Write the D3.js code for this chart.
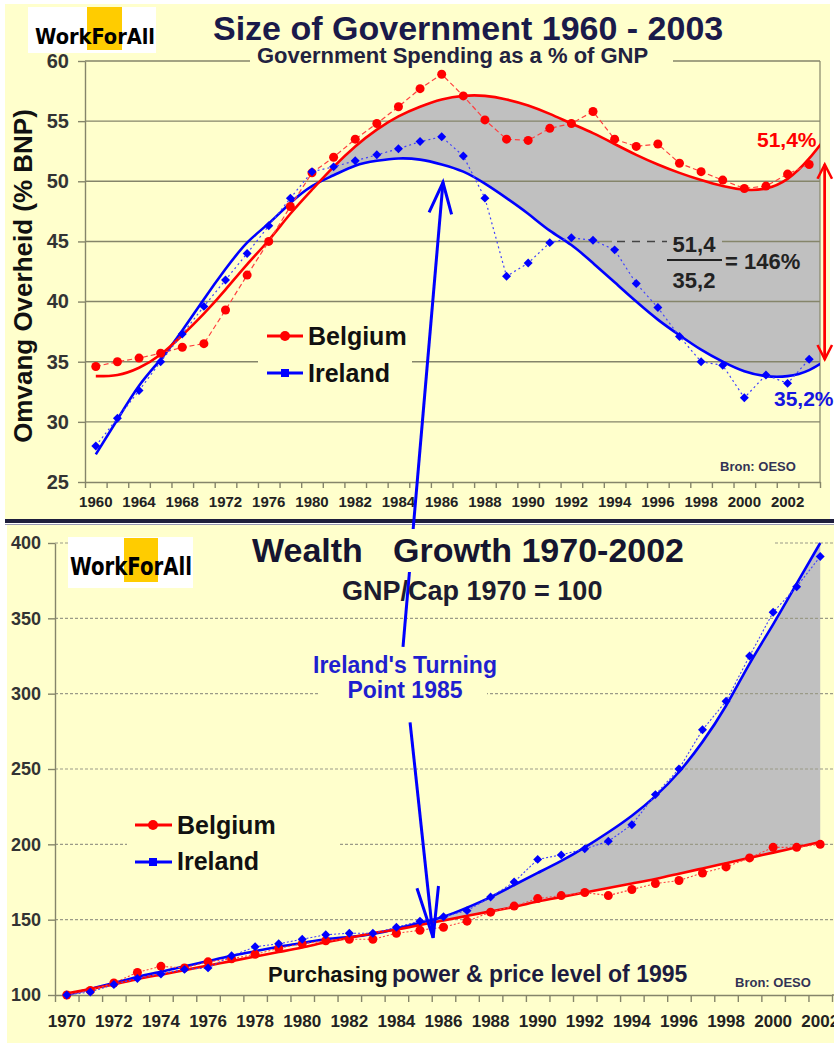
<!DOCTYPE html>
<html>
<head>
<meta charset="utf-8">
<script src="https://cdn.jsdelivr.net/npm/d3@7"></script>
<style>
  html, body { margin: 0; padding: 0; background: #fff; }
  svg { display: block; }
</style>
</head>
<body>
<svg id="chart" width="834" height="1043"></svg>
<script>
"use strict";

// ---------- top chart: government spending as % of GNP ----------
const spendYears = [1960, 1962, 1964, 1966, 1968, 1970, 1972, 1974, 1976, 1978, 1980,
  1981, 1982, 1983, 1984, 1985, 1986, 1987, 1988, 1989, 1990, 1991, 1992, 1993, 1994,
  1995, 1996, 1997, 1998, 1999, 2000, 2001, 2002, 2003];
const spendTickLabels = ["1960", "1964", "1968", "1972", "1976", "1980", "1982", "1984", "1986",
  "1988", "1990", "1992", "1994", "1996", "1998", "2000", "2002"];
const spendTicks = [25, 30, 35, 40, 45, 50, 55, 60];

const belgiumSpend = [34.6, 35.0, 35.3, 35.7, 36.2, 36.5, 39.3, 42.2, 45.0, 47.9, 50.7,
  52.0, 53.5, 54.8, 56.2, 57.7, 58.9, 57.1, 55.1, 53.5, 53.4, 54.4, 54.8, 55.8, 53.5,
  52.9, 53.1, 51.5, 50.8, 50.1, 49.4, 49.6, 50.6, 51.4];
const irelandSpend = [28.0, 30.3, 32.6, 35.0, 37.3, 39.6, 41.8, 44.0, 46.3, 48.6, 50.8,
  51.2, 51.7, 52.2, 52.7, 53.3, 53.7, 52.1, 48.6, 42.1, 43.2, 44.9, 45.3, 45.1, 44.3,
  41.5, 39.5, 37.1, 35.0, 34.7, 32.0, 33.9, 33.2, 35.2];

// trend curves (one value per slot, one extra past 2003)
const belgiumSpendTrend = [33.8, 33.9, 34.5, 35.6, 37.2, 39.0, 41.0, 43.1, 45.1, 47.3, 49.3,
  51.2, 52.9, 54.3, 55.4, 56.2, 56.8, 57.1, 57.1, 56.8, 56.3, 55.6, 54.8, 54.0, 53.1,
  52.2, 51.4, 50.7, 50.1, 49.6, 49.3, 49.4, 50.2, 51.9, 54.2];
const irelandSpendTrend = [27.3, 30.2, 33.0, 35.2, 37.6, 40.2, 42.7, 44.9, 46.5, 48.2, 49.6,
  50.5, 51.3, 51.7, 51.9, 51.8, 51.4, 50.8, 49.8, 48.6, 47.3, 45.9, 44.7, 43.2, 41.6,
  40.0, 38.5, 37.2, 36.0, 35.0, 34.2, 33.8, 33.8, 34.3, 35.4];

// ---------- bottom chart: GNP per capita, 1970 = 100 ----------
const gnpYears = [1970, 1971, 1972, 1973, 1974, 1975, 1976, 1977, 1978, 1979, 1980, 1981,
  1982, 1983, 1984, 1985, 1986, 1987, 1988, 1989, 1990, 1991, 1992, 1993, 1994, 1995,
  1996, 1997, 1998, 1999, 2000, 2001, 2002];
const gnpTickLabels = ["1970", "1972", "1974", "1976", "1978", "1980", "1982", "1984", "1986",
  "1988", "1990", "1992", "1994", "1996", "1998", "2000", "2002"];
const gnpTicks = [100, 150, 200, 250, 300, 350, 400];

const belgiumGnp = [100, 103, 108, 115, 119, 118, 122, 124, 127, 131, 134, 136, 137, 137,
  141, 143, 145, 149, 155, 159, 164, 166, 168, 166, 170, 174, 176, 181, 185, 191, 198, 198, 200];
const irelandGnp = [100, 102, 107, 111, 114, 117, 118, 126, 132, 134, 137, 140, 141, 141,
  145, 149, 152, 156, 165, 175, 190, 193, 197, 202, 213, 233, 250, 276, 295, 325, 354, 371, 391];

const belgiumGnpTrend = [101, 104, 107, 110.5, 113.5, 116.5, 119.5, 122.5, 125.5, 128.5, 131.5,
  135, 138, 141, 143.5, 146.5, 149.5, 152.5, 155.5, 158.5, 162, 165, 168, 171, 174, 177,
  180.5, 184, 187.5, 191, 194.5, 198, 201.5];
const irelandGnpTrend = [100, 104, 108, 112, 115.5, 119, 122.5, 126, 129, 132, 134.5, 137,
  138.5, 140.5, 144, 148, 152, 158, 165, 173, 181, 189, 198, 208, 219, 232, 248, 268, 292,
  320, 346, 373, 400];

// ---------- styling ----------
const BG = "#FFFFCC";
const GAP = "#C0C0C0";
const RED = "#FF0000";
const BLUE = "#0000FF";
const INK = "#1A1A4A";
const AXIS = "#85856A";
const FONT = '"Liberation Sans", Arial, Helvetica, sans-serif';
const LOGO_FONT = '"DejaVu Sans Condensed", "Liberation Sans Narrow", sans-serif';

const svg = d3.select("#chart").attr("font-family", FONT);
const defs = svg.append("defs");

// index of the last place where series a climbs above series b
function lastCrossing(a, b) {
  let at = 0;
  const n = Math.min(a.length, b.length);
  for (let i = 1; i < n; i++) {
    const d0 = a[i - 1] - b[i - 1], d1 = a[i] - b[i];
    if (d0 <= 0 && d1 > 0) at = i - 1 + d0 / (d0 - d1);
  }
  return at;
}

function arrow(g, x1, y1, x2, y2, len, deg, color, width) {
  const a = Math.atan2(y1 - y2, x1 - x2), r = deg * Math.PI / 180;
  g.append("line")
    .attr("x1", x1).attr("y1", y1).attr("x2", x2).attr("y2", y2)
    .attr("stroke", color).attr("stroke-width", width);
  const p = [a - r, a + r].map(t => [x2 + len * Math.cos(t), y2 + len * Math.sin(t)]);
  g.append("path")
    .attr("d", `M${p[0]}L${x2},${y2}L${p[1]}`)
    .attr("fill", "none").attr("stroke", color).attr("stroke-width", width);
}

function box(g, x, y, w, h, fill) {
  g.append("rect").attr("x", x).attr("y", y).attr("width", w).attr("height", h)
    .attr("fill", fill || BG);
}

function label(g, txt, x, y, opt) {
  const o = Object.assign({ size: 20, weight: "bold", fill: "#222", anchor: "start" }, opt);
  return g.append("text").attr("x", x).attr("y", y)
    .attr("font-size", o.size).attr("font-weight", o.weight)
    .attr("fill", o.fill).attr("text-anchor", o.anchor).text(txt);
}

function logo(g, x, y, w, h, sq, tx, ty, tlen, fs) {
  box(g, x, y, w, h, "#fff");
  box(g, sq[0], sq[1], sq[2], sq[3], "#FFCC00");
  g.append("text").attr("x", tx).attr("y", ty)
    .attr("font-family", LOGO_FONT).attr("font-weight", "bold").attr("font-size", fs)
    .attr("textLength", tlen).attr("lengthAdjust", "spacingAndGlyphs")
    .attr("fill", "#000").text("WorkForAll");
}

function markers(g, values, x, y, color, shape) {
  if (shape === "circle") {
    g.selectAll(null).data(values).join("circle")
      .attr("cx", (d, i) => x(i)).attr("cy", d => y(d)).attr("r", 4.5).attr("fill", color);
  } else {
    const sym = d3.symbol().type(d3.symbolSquare).size(40)();
    g.selectAll(null).data(values).join("path")
      .attr("d", sym)
      .attr("transform", (d, i) => `translate(${x(i)},${y(d)}) rotate(45)`)
      .attr("fill", color);
  }
}

// ---------- backgrounds ----------
svg.append("rect").attr("width", 834).attr("height", 1043).attr("fill", "#fff");
box(svg, 5, 4, 825, 515);
box(svg, 7, 524, 827, 519);
svg.append("rect").attr("x", 5).attr("y", 519).attr("width", 829).attr("height", 4).attr("fill", "#1E1E3C");
svg.append("line").attr("x1", 5).attr("x2", 834).attr("y1", 524.5).attr("y2", 524.5)
  .attr("stroke", "#9898B0").attr("stroke-width", 1);

// =====================================================================
// TOP CHART
// =====================================================================
const pt = { left: 85, right: 820, top: 61, bottom: 482 };
const xT = d3.scaleLinear().domain([-0.5, spendYears.length - 0.5]).range([pt.left, pt.right]);
const yT = d3.scaleLinear().domain([25, 60]).range([pt.bottom, pt.top]);
const gT = svg.append("g");

defs.append("clipPath").attr("id", "clipTop").append("rect")
  .attr("x", pt.left).attr("y", pt.top).attr("width", pt.right - pt.left).attr("height", pt.bottom - pt.top);
const gapFromT = lastCrossing(belgiumSpendTrend, irelandSpendTrend);
defs.append("clipPath").attr("id", "clipTopGap").append("rect")
  .attr("x", xT(gapFromT)).attr("y", pt.top).attr("width", pt.right - xT(gapFromT)).attr("height", pt.bottom - pt.top);

// grey gap between the two trend curves
gT.append("path")
  .attr("clip-path", "url(#clipTopGap)")
  .attr("d", d3.area()
    .x((d, i) => xT(i))
    .y0((d, i) => yT(irelandSpendTrend[i]))
    .y1(d => yT(d))
    .curve(d3.curveNatural)(belgiumSpendTrend))
  .attr("fill", GAP);

// gridlines and frame
gT.selectAll(null).data(spendTicks.slice(1)).join("line")
  .attr("x1", pt.left).attr("x2", pt.right).attr("y1", d => yT(d)).attr("y2", d => yT(d))
  .attr("stroke", AXIS).attr("stroke-width", 1.4);
gT.append("line").attr("x1", pt.right).attr("x2", pt.right).attr("y1", pt.top).attr("y2", pt.bottom)
  .attr("stroke", AXIS).attr("stroke-width", 1.2);

gT.append("g").attr("transform", `translate(0,${pt.bottom})`)
  .call(d3.axisBottom(xT).tickValues(d3.range(spendYears.length + 1).map(i => i - 0.5))
    .tickSize(6).tickSizeOuter(0).tickFormat(""))
  .call(g => g.selectAll("path,line").attr("stroke", AXIS).attr("stroke-width", 1.4));
gT.append("g").attr("transform", `translate(${pt.left},0)`)
  .call(d3.axisLeft(yT).tickValues(spendTicks).tickSize(7).tickSizeOuter(0).tickPadding(9))
  .call(g => {
    g.selectAll("path,line").attr("stroke", AXIS).attr("stroke-width", 1.4);
    g.selectAll("text").attr("font-family", FONT).attr("font-size", 20)
      .attr("font-weight", "bold").attr("fill", "#333");
  });

gT.selectAll(null).data(spendTickLabels).join("text")
  .attr("x", (d, i) => xT(i * 2)).attr("y", 507)
  .attr("text-anchor", "middle").attr("font-size", 15).attr("font-weight", "bold")
  .attr("fill", "#222").text(d => d);

// boxes behind texts
box(gT, 250, 50, 423, 17);
box(gT, 258, 318, 154, 72);
box(gT, 612, 236, 110, 9, GAP);

// trend curves
const gTLines = gT.append("g").attr("clip-path", "url(#clipTop)");
const trendT = d3.line().x((d, i) => xT(i)).y(d => yT(d)).curve(d3.curveNatural);
gTLines.append("path").attr("d", trendT(irelandSpendTrend))
  .attr("fill", "none").attr("stroke", BLUE).attr("stroke-width", 2.6);
gTLines.append("path").attr("d", trendT(belgiumSpendTrend))
  .attr("fill", "none").attr("stroke", RED).attr("stroke-width", 2.6);

// data lines and markers
const dataT = d3.line().x((d, i) => xT(i)).y(d => yT(d));
gT.append("path").attr("d", dataT(belgiumSpend)).attr("fill", "none")
  .attr("stroke", "#FF4040").attr("stroke-width", 1.2).attr("stroke-dasharray", "5,3");
gT.append("path").attr("d", dataT(irelandSpend)).attr("fill", "none")
  .attr("stroke", "#4040FF").attr("stroke-width", 1.2).attr("stroke-dasharray", "2,3");
markers(gT, belgiumSpend, xT, yT, RED, "circle");
markers(gT, irelandSpend, xT, yT, BLUE, "diamond");

// titles
logo(gT, 28, 7, 128, 46, [87, 7, 35, 43], 35, 44, 120, 22);
label(gT, "Size of Government 1960 - 2003", 213, 40, { size: 34, fill: INK });
label(gT, "Government Spending as a % of GNP", 257, 63, { size: 22, fill: "#222240" });
gT.append("text").attr("transform", "translate(32,276) rotate(-90)")
  .attr("text-anchor", "middle").attr("font-size", 26).attr("font-weight", "bold")
  .attr("fill", "#111").text("Omvang Overheid (% BNP)");

// legend
gT.append("line").attr("x1", 267).attr("x2", 303).attr("y1", 336).attr("y2", 336)
  .attr("stroke", RED).attr("stroke-width", 3);
gT.append("circle").attr("cx", 285).attr("cy", 336).attr("r", 5).attr("fill", RED);
gT.append("line").attr("x1", 267).attr("x2", 303).attr("y1", 373).attr("y2", 373)
  .attr("stroke", BLUE).attr("stroke-width", 3);
gT.append("rect").attr("x", 281).attr("y", 369).attr("width", 8).attr("height", 8).attr("fill", BLUE);
label(gT, "Belgium", 308, 345, { size: 25, fill: "#111" });
label(gT, "Ireland", 308, 382, { size: 25, fill: "#111" });

// ratio annotation
gT.append("line").attr("x1", 617).attr("x2", 667).attr("y1", yT(45)).attr("y2", yT(45))
  .attr("stroke", "#444").attr("stroke-width", 1.4).attr("stroke-dasharray", "8,7");
label(gT, "51,4", 694, 252, { size: 22, anchor: "middle" });
gT.append("line").attr("x1", 667).attr("x2", 722).attr("y1", 260).attr("y2", 260)
  .attr("stroke", "#222").attr("stroke-width", 2);
label(gT, "35,2", 694, 288, { size: 22, anchor: "middle" });
label(gT, "= 146%", 725, 269, { size: 22 });
label(gT, "51,4%", 757, 147, { size: 21, fill: RED });
label(gT, "35,2%", 774, 406, { size: 21, fill: "#1515E0" });
label(gT, "Bron: OESO", 720, 471, { size: 13, fill: "#333355" });

// red double arrow between 51,4 and 35,2
const ax = xT(33.72);
arrow(gT, ax, yT(35.2), ax, yT(51.4), 16, 27, RED, 2.5);
arrow(gT, ax, yT(51.4), ax, yT(35.2), 16, 27, RED, 2.5);

// =====================================================================
// BOTTOM CHART
// =====================================================================
const pb = { left: 55, right: 832, top: 543, bottom: 995 };
const xB = d3.scaleLinear().domain([-0.5, gnpYears.length - 0.5]).range([pb.left, pb.right]);
const yB = d3.scaleLinear().domain([100, 400]).range([pb.bottom, pb.top]);
const gB = svg.append("g");

const gapFromB = lastCrossing(irelandGnpTrend, belgiumGnpTrend);
defs.append("clipPath").attr("id", "clipBotGap").append("rect")
  .attr("x", xB(gapFromB)).attr("y", pb.top).attr("width", pb.right - xB(gapFromB)).attr("height", pb.bottom - pb.top);

gB.append("path")
  .attr("clip-path", "url(#clipBotGap)")
  .attr("d", d3.area()
    .x((d, i) => xB(i))
    .y0((d, i) => yB(belgiumGnpTrend[i]))
    .y1(d => yB(d))
    .curve(d3.curveNatural)(irelandGnpTrend))
  .attr("fill", GAP);

gB.selectAll(null).data(gnpTicks.slice(1)).join("line")
  .attr("x1", pb.left).attr("x2", 834).attr("y1", d => yB(d)).attr("y2", d => yB(d))
  .attr("stroke", "#9A9A88").attr("stroke-width", 1.1).attr("stroke-dasharray", "3,2");

gB.append("g").attr("transform", `translate(0,${pb.bottom})`)
  .call(d3.axisBottom(xB).tickValues(d3.range(gnpYears.length + 1).map(i => i - 0.5))
    .tickSize(7).tickSizeOuter(0).tickFormat(""))
  .call(g => g.selectAll("path,line").attr("stroke", AXIS).attr("stroke-width", 1.4));
gB.append("line").attr("x1", pb.right).attr("x2", 834).attr("y1", pb.bottom).attr("y2", pb.bottom)
  .attr("stroke", AXIS).attr("stroke-width", 1.4);
gB.append("g").attr("transform", `translate(${pb.left},0)`)
  .call(d3.axisLeft(yB).tickValues(gnpTicks).tickSize(7).tickSizeOuter(0).tickPadding(7))
  .call(g => {
    g.selectAll("path,line").attr("stroke", AXIS).attr("stroke-width", 1.4);
    g.selectAll("text").attr("font-family", FONT).attr("font-size", 18)
      .attr("font-weight", "bold").attr("fill", "#333");
  });

gB.selectAll(null).data(gnpTickLabels).join("text")
  .attr("x", (d, i) => xB(i * 2)).attr("y", 1027)
  .attr("text-anchor", "middle").attr("font-size", 17).attr("font-weight", "bold")
  .attr("fill", "#222").text(d => d);

box(gB, 127, 808, 211, 72);
box(gB, 320, 650, 167, 56);

const trendB = d3.line().x((d, i) => xB(i)).y(d => yB(d)).curve(d3.curveNatural);
gB.append("path").attr("d", trendB(irelandGnpTrend))
  .attr("fill", "none").attr("stroke", BLUE).attr("stroke-width", 2.6);
gB.append("path").attr("d", trendB(belgiumGnpTrend))
  .attr("fill", "none").attr("stroke", RED).attr("stroke-width", 2.6);

const dataB = d3.line().x((d, i) => xB(i)).y(d => yB(d));
gB.append("path").attr("d", dataB(belgiumGnp)).attr("fill", "none")
  .attr("stroke", "#FF4040").attr("stroke-width", 1.1).attr("stroke-dasharray", "2,2");
gB.append("path").attr("d", dataB(irelandGnp)).attr("fill", "none")
  .attr("stroke", "#4040FF").attr("stroke-width", 1.1).attr("stroke-dasharray", "2,2");
markers(gB, belgiumGnp, xB, yB, RED, "circle");
markers(gB, irelandGnp, xB, yB, BLUE, "diamond");

// legend
gB.append("line").attr("x1", 135).attr("x2", 172).attr("y1", 825).attr("y2", 825)
  .attr("stroke", RED).attr("stroke-width", 3);
gB.append("circle").attr("cx", 153).attr("cy", 825).attr("r", 5).attr("fill", RED);
gB.append("line").attr("x1", 135).attr("x2", 172).attr("y1", 862).attr("y2", 862)
  .attr("stroke", BLUE).attr("stroke-width", 3);
gB.append("rect").attr("x", 149).attr("y", 858).attr("width", 8).attr("height", 8).attr("fill", BLUE);
label(gB, "Belgium", 177, 834, { size: 25, fill: "#111" });
label(gB, "Ireland", 177, 870, { size: 25, fill: "#111" });

label(gB, "Ireland's Turning", 405, 673, { size: 23, fill: "#1F1FCF", anchor: "middle" });
label(gB, "Point 1985", 405, 698, { size: 23, fill: "#1F1FCF", anchor: "middle" });
label(gB, "Purchasing", 268, 982, { size: 22, fill: "#111" });
label(gB, "power & price level of 1995", 392, 982, { size: 23, fill: "#1C1C40" });
label(gB, "Bron: OESO", 735, 987, { size: 13, fill: "#333355" });

logo(gB, 68, 537, 125, 51, [124, 538, 34, 44], 70, 575, 122, 25);

// ---------- turning point arrows (anchored in data units) ----------
const gA = svg.append("g");
arrow(gA, xB(14.28), yB(331), xT(16.06), yT(49.9), 33, 20, BLUE, 3);
arrow(gA, xB(14.58), yB(281), xB(15.56), yB(138), 52, 12, BLUE, 3);

// bottom title sits over the long arrow
box(gA, 193, 529, 580, 43);
label(gA, "Wealth", 252, 562, { size: 34, fill: "#151530" });
label(gA, "Growth 1970-2002", 393, 562, { size: 34, fill: "#151530" });
label(gA, "GNP/Cap 1970 = 100", 342, 600, { size: 27, fill: "#1C1C30" });
</script>
</body>
</html>
